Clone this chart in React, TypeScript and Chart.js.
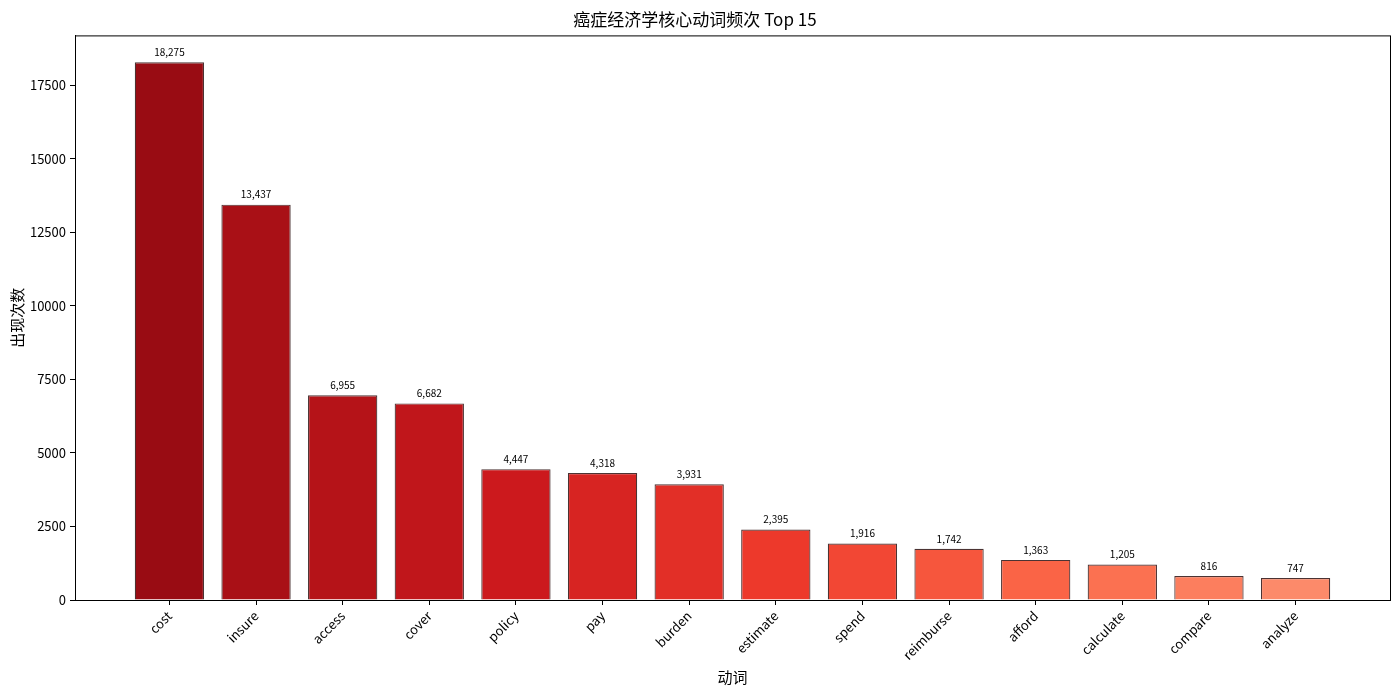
import { useEffect, useRef } from 'react';
import Chart from 'chart.js/auto';

// Datos del gráfico
const verbs = [
  'cost', 'insure', 'access', 'cover', 'policy', 'pay', 'burden',
  'estimate', 'spend', 'reimburse', 'afford', 'calculate', 'compare', 'analyze',
];
const counts = [18275, 13437, 6955, 6682, 4447, 4318, 3931, 2395, 1916, 1742, 1363, 1205, 816, 747];
const barColors = [
  '#990c13', '#a91016', '#b51318', '#c0161b', '#cc191d', '#d72422', '#e22f27',
  '#ed392b', '#f24734', '#f6563d', '#fa6446', '#fb7151', '#fc7e5e', '#fc8a6a',
];
const yTicks = [0, 2500, 5000, 7500, 10000, 12500, 15000, 17500];

const FONT = '"Noto Sans CJK SC", "DejaVu Sans", sans-serif';

const App = () => {
  const canvasRef = useRef<HTMLCanvasElement>(null);
  const chartRef = useRef<Chart | null>(null);

  useEffect(() => {
    document.body.style.margin = '0';
    if (!canvasRef.current) return;
    const ctx = canvasRef.current.getContext('2d');
    if (!ctx) return;

    if (chartRef.current) chartRef.current.destroy();

    const n = verbs.length;
    const pad = 0.05 * (n - 1 + 0.8);
    const yMax = Math.max(...counts) * 1.05;

    // etiquetas de valor encima de cada barra + marco completo
    const extras = {
      id: 'extras',
      afterDatasetsDraw(chart: any) {
        const c = chart.ctx;
        const meta = chart.getDatasetMeta(0);
        c.save();
        c.fillStyle = '#000';
        c.font = `10px ${FONT}`;
        c.textAlign = 'center';
        c.textBaseline = 'bottom';
        meta.data.forEach((bar: any, i: number) => {
          c.fillText(counts[i].toLocaleString('en-US'), bar.x, bar.y - 5);
        });
        const a = chart.chartArea;
        c.strokeStyle = '#000';
        c.lineWidth = 1;
        c.strokeRect(a.left + 0.5, a.top + 0.5, a.right - a.left, a.bottom - a.top);
        c.restore();
      },
    };

    chartRef.current = new Chart(ctx, {
      type: 'bar',
      data: {
        datasets: [
          {
            data: counts.map((v, i) => ({ x: i, y: v })),
            backgroundColor: barColors,
            borderColor: 'rgba(30,0,0,0.8)',
            borderWidth: 1.2,
            categoryPercentage: 1,
            barPercentage: 0.8,
          },
        ],
      },
      options: {
        animation: false,
        responsive: true,
        maintainAspectRatio: false,
        layout: { padding: { left: 0, right: 10, top: 0, bottom: 0 } },
        plugins: {
          legend: { display: false },
          tooltip: { enabled: false },
          title: {
            display: true,
            text: '癌症经济学核心动词频次 Top 15',
            color: '#000',
            font: { family: FONT, size: 17, weight: 'normal' },
            padding: { top: 9, bottom: 6 },
          },
        },
        scales: {
          x: {
            type: 'linear',
            offset: false,
            min: -0.4 - pad,
            max: n - 1 + 0.4 + pad,
            afterBuildTicks: (scale: any) => {
              scale.ticks = verbs.map((_, i) => ({ value: i }));
            },
            afterFit: (scale: any) => {
              scale.height = 94;
            },
            ticks: {
              autoSkip: false,
              minRotation: 45,
              maxRotation: 45,
              color: '#000',
              font: { family: FONT, size: 13 },
              callback: (v: any) => verbs[v] ?? '',
            },
            grid: { offset: false, drawOnChartArea: false, drawTicks: true, tickLength: 5, color: '#000' },
            border: { display: true, color: '#000' },
            title: {
              display: true,
              text: '动词',
              color: '#000',
              font: { family: FONT, size: 15 },
              padding: { top: 0, bottom: 8 },
            },
          },
          y: {
            min: 0,
            max: yMax,
            afterBuildTicks: (scale: any) => {
              scale.ticks = yTicks.map((v) => ({ value: v }));
            },
            afterFit: (scale: any) => {
              scale.width = 75;
            },
            ticks: {
              color: '#000',
              font: { family: FONT, size: 13 },
              padding: 4,
              callback: (v: any) => String(v),
            },
            grid: { drawOnChartArea: false, drawTicks: true, tickLength: 5, color: '#000' },
            border: { display: true, color: '#000' },
            title: {
              display: true,
              text: '出现次数',
              color: '#000',
              font: { family: FONT, size: 15 },
              padding: { top: 8, bottom: 0 },
            },
          },
        },
      },
      plugins: [extras],
    } as any);

    return () => {
      if (chartRef.current) {
        chartRef.current.destroy();
        chartRef.current = null;
      }
    };
  }, []);

  return (
    <div style={{ width: 1400, height: 694, position: 'relative', background: '#fff' }}>
      <canvas ref={canvasRef} />
    </div>
  );
};

export default App;
